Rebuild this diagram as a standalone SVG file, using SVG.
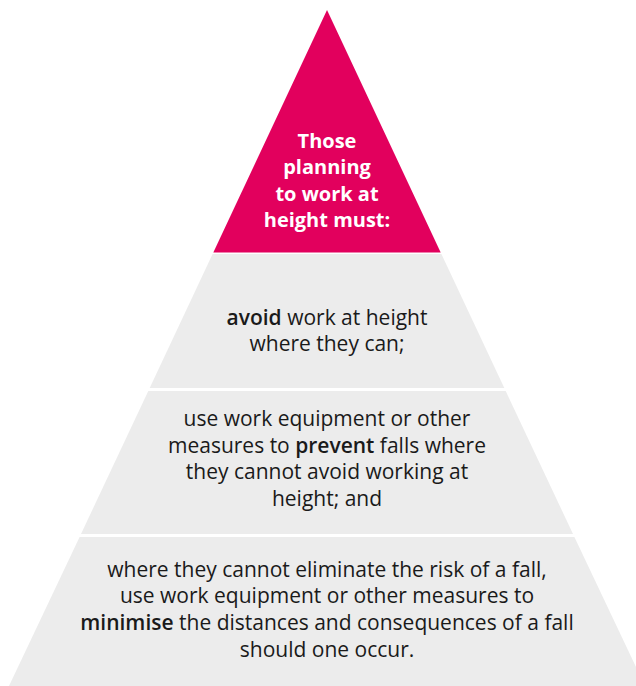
<svg xmlns="http://www.w3.org/2000/svg" width="636" height="686" viewBox="0 0 636 686">
<style>
.band{fill:#ececec}
.t{font-family:"Open Sans","Noto Sans",sans-serif;font-size:21px;fill:#1a1a1a;text-anchor:middle}
.w{font-family:"Open Sans","Noto Sans",sans-serif;font-size:20px;font-weight:bold;fill:#ffffff;text-anchor:middle}
.b{font-weight:600}
</style>
<rect width="636" height="686" fill="#ffffff"/>
<g id="top">
<polygon points="327,10 440.7,252.5 213.3,252.5" fill="#e2005d"/>
<text class="w" x="327" y="148">Those</text>
<text class="w" x="327" y="174">planning</text>
<text class="w" x="327" y="200.5">to work at</text>
<text class="w" x="327" y="227">height must:</text>
</g>
<g id="avoid">
<polygon class="band" points="212.6,254 441.4,254 504.3,388 149.7,388"/>
<text class="t" x="327" y="325"><tspan class="b">avoid</tspan> work at height</text>
<text class="t" x="327" y="351">where they can;</text>
</g>
<g id="prevent">
<polygon class="band" points="148.3,391 505.7,391 573,534 81,534"/>
<text class="t" x="327" y="425.7">use work equipment or other</text>
<text class="t" x="327" y="452.5">measures to <tspan class="b">prevent</tspan> falls where</text>
<text class="t" x="327" y="479.3">they cannot avoid working at</text>
<text class="t" x="327" y="505.7">height; and</text>
</g>
<g id="minimise">
<polygon class="band" points="79.6,537 574.4,537 645,686 9,686"/>
<text class="t" x="327" y="576.7">where they cannot eliminate the risk of a fall,</text>
<text class="t" x="327" y="603.3">use work equipment or other measures to</text>
<text class="t" x="327" y="630"><tspan class="b">minimise</tspan> the distances and consequences of a fall</text>
<text class="t" x="327" y="657">should one occur.</text>
</g>
<g id="connectors"/>
</svg>
